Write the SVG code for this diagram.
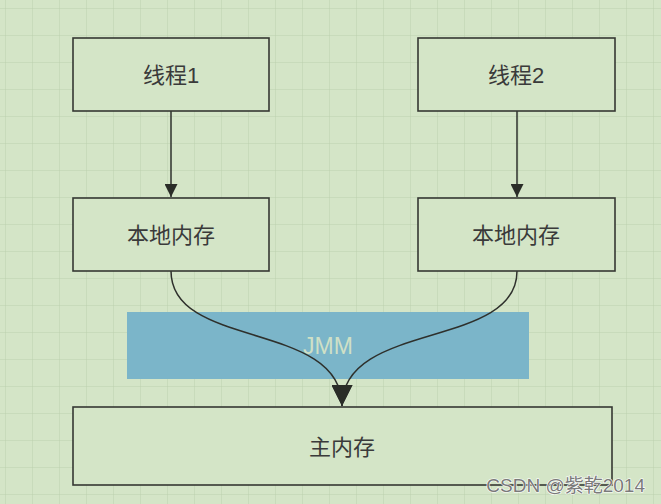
<svg xmlns="http://www.w3.org/2000/svg" width="661" height="504" viewBox="0 0 661 504">
<defs>
<pattern id="grid" width="27" height="27" patternUnits="userSpaceOnUse" x="6" y="9">
<path d="M27 0 V27 M0 27 H27" fill="none" stroke="#bcd0ae" stroke-width="1"/>
</pattern>
<marker id="arr" viewBox="0 0 10 10" refX="10" refY="5" markerWidth="20" markerHeight="13" markerUnits="userSpaceOnUse" orient="auto">
<path d="M0 0 L10 5 L0 10 Z" fill="#2a2d28"/>
</marker>
<marker id="arrBig" viewBox="0 0 10 10" refX="10" refY="5" markerWidth="21" markerHeight="21" markerUnits="userSpaceOnUse" orient="auto">
<path d="M0 0 L10 5 L0 10 Z" fill="#2a2d28"/>
</marker>
</defs>
<style>
.box{fill:#d4e5c7;stroke:#353833;stroke-width:1.6}
.lbl{font-family:"Liberation Sans","Noto Sans CJK SC",sans-serif;font-size:22px;fill:#3a3a3a;text-anchor:middle}
.edge{fill:none;stroke:#2e302c;stroke-width:1.5}
</style>
<rect width="661" height="504" fill="#d4e5c7"/>
<rect width="661" height="504" fill="url(#grid)"/>
<g id="jmm">
<rect x="127" y="312" width="402" height="67" fill="#7bb5c9"/>
<text x="328" y="354" class="lbl" style="fill:#cfe0c6;font-size:23px">JMM</text>
</g>
<g id="connectors">
<path class="edge" d="M171 111 V197" marker-end="url(#arr)"/>
<path class="edge" d="M517 111 V197" marker-end="url(#arr)"/>
<path class="edge" d="M171 271 C171 350 342 320 342 406" marker-end="url(#arrBig)"/>
<path class="edge" d="M517 271 C517 350 342 320 342 406" marker-end="url(#arrBig)"/>
</g>
<g id="thread1">
<rect class="box" x="73" y="38" width="196" height="73"/>
<text x="171" y="83" class="lbl">线程1</text>
</g>
<g id="thread2">
<rect class="box" x="418" y="38" width="197" height="73"/>
<text x="516" y="83" class="lbl">线程2</text>
</g>
<g id="local1">
<rect class="box" x="73" y="198" width="196" height="73"/>
<text x="171" y="243" class="lbl">本地内存</text>
</g>
<g id="local2">
<rect class="box" x="418" y="198" width="197" height="73"/>
<text x="516" y="243" class="lbl">本地内存</text>
</g>
<g id="main">
<rect class="box" x="73" y="407" width="539" height="78"/>
<text x="342" y="455" class="lbl">主内存</text>
</g>
<text x="645" y="492" style="font-family:'Liberation Sans','Noto Sans CJK SC',sans-serif;font-size:19px;fill:#7a7a7a;stroke:#ffffff;stroke-width:1.2;paint-order:stroke;text-anchor:end">CSDN @紫乾2014</text>
</svg>
